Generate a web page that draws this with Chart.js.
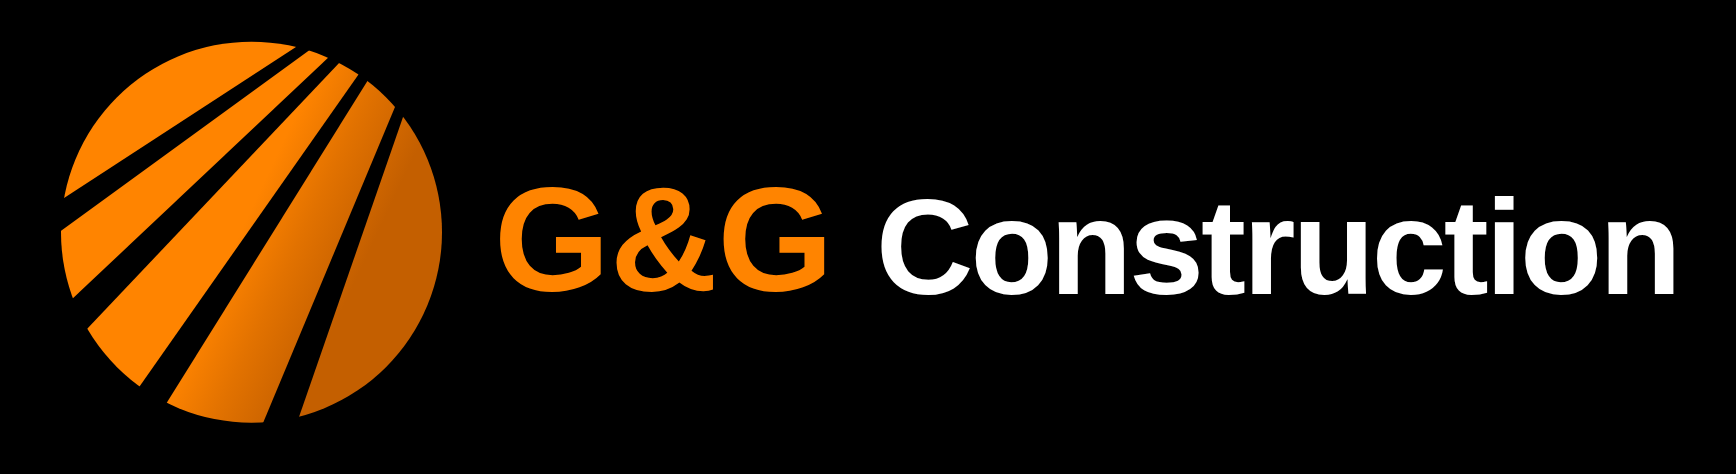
<!DOCTYPE html>
<html><head><meta charset="utf-8">
<script src="https://cdn.jsdelivr.net/npm/chart.js@4.4.1/dist/chart.umd.min.js"></script>
<style>
html,body{margin:0;padding:0;background:#000;overflow:hidden;}
#wrap{width:1736px;height:474px;position:relative;}
</style></head><body>
<div id="wrap"><canvas id="c"></canvas></div>
<script>
// Emblem geometry (in canvas units)
const circleCenter = [251.5, 232.2];
const circleRadius = [190.5];
// Black stripes cutting the emblem: each is a quadrilateral (corner points)
const stripe1 = [[41,213],[319,32],[333,33],[36,249]];
const stripe2 = [[53,317],[348,39],[359,42],[68,349]];
const stripe3 = [[123,410],[375,51],[383,56],[151,428]];
const stripe4 = [[253,447],[405,83],[411,94],[291,440]];
// Wordmark
const brandWords = ['G&G', 'Construction'];

const stripes = [stripe1, stripe2, stripe3, stripe4];
const ORANGE = '#FF8400';
const ORANGE_MID = '#E27200';
const ORANGE_DARK = '#C45F00';

function emblemFill(context) {
  const chart = context.chart;
  const {ctx, chartArea} = chart;
  if (!chartArea) return ORANGE;
  const xs = chart.scales.x, ys = chart.scales.y;
  const grad = ctx.createLinearGradient(xs.getPixelForValue(272), ys.getPixelForValue(165),
                                  xs.getPixelForValue(385), ys.getPixelForValue(218));
  grad.addColorStop(0, ORANGE);
  grad.addColorStop(0.45, ORANGE_MID);
  grad.addColorStop(1, ORANGE_DARK);
  return grad;
}

const datasets = stripes.map((s, i) => ({
  type: 'line',
  label: 'stripe' + (i + 1),
  data: s.map(p => ({x: p[0], y: p[1]})),
  fill: 'shape',
  backgroundColor: '#000000',
  borderColor: 'rgba(0,0,0,0)',
  borderWidth: 0,
  pointRadius: 0,
  pointHoverRadius: 0,
  tension: 0,
  clip: false,
  order: 1
}));
datasets.push({
  type: 'bubble',
  label: 'emblem',
  data: [{x: circleCenter[0], y: circleCenter[1], r: circleRadius[0]}],
  backgroundColor: emblemFill,
  borderWidth: 0,
  hoverRadius: 0,
  clip: false,
  order: 2
});

function drawSpaced(ctx, text, x, y, spacing) {
  let cx = x;
  for (const ch of text) {
    ctx.fillText(ch, cx, y);
    cx += ctx.measureText(ch).width + spacing;
  }
}

const bgPlugin = {
  id: 'bg',
  beforeDraw(chart) {
    const ctx = chart.ctx;
    ctx.save();
    ctx.fillStyle = '#000000';
    ctx.fillRect(0, 0, chart.width, chart.height);
    ctx.restore();
  }
};

const wordmarkPlugin = {
  id: 'wordmark',
  afterDatasetsDraw(chart) {
    const ctx = chart.ctx;
    const xs = chart.scales.x, ys = chart.scales.y;
    ctx.save();
    ctx.textBaseline = 'alphabetic';
    ctx.textAlign = 'left';
    ctx.font = 'bold 149px "Liberation Sans", Arial, Helvetica, sans-serif';
    ctx.fillStyle = ORANGE;
    drawSpaced(ctx, brandWords[0], xs.getPixelForValue(494), ys.getPixelForValue(291), 0);
    ctx.font = 'bold 135px "Liberation Sans", Arial, Helvetica, sans-serif';
    ctx.fillStyle = '#FFFFFF';
    drawSpaced(ctx, brandWords[1], xs.getPixelForValue(876), ys.getPixelForValue(294), -3.1);
    ctx.restore();
  }
};

new Chart(document.getElementById('c'), {
  type: 'scatter',
  data: {datasets},
  options: {
    responsive: true,
    maintainAspectRatio: false,
    animation: false,
    events: [],
    layout: {padding: 0, autoPadding: false},
    scales: {
      x: {type: 'linear', min: 0, max: 1736, display: false},
      y: {type: 'linear', min: 0, max: 474, reverse: true, display: false}
    },
    plugins: {legend: {display: false}, tooltip: {enabled: false}, title: {display: false}}
  },
  plugins: [bgPlugin, wordmarkPlugin]
});
</script>
</body></html>
